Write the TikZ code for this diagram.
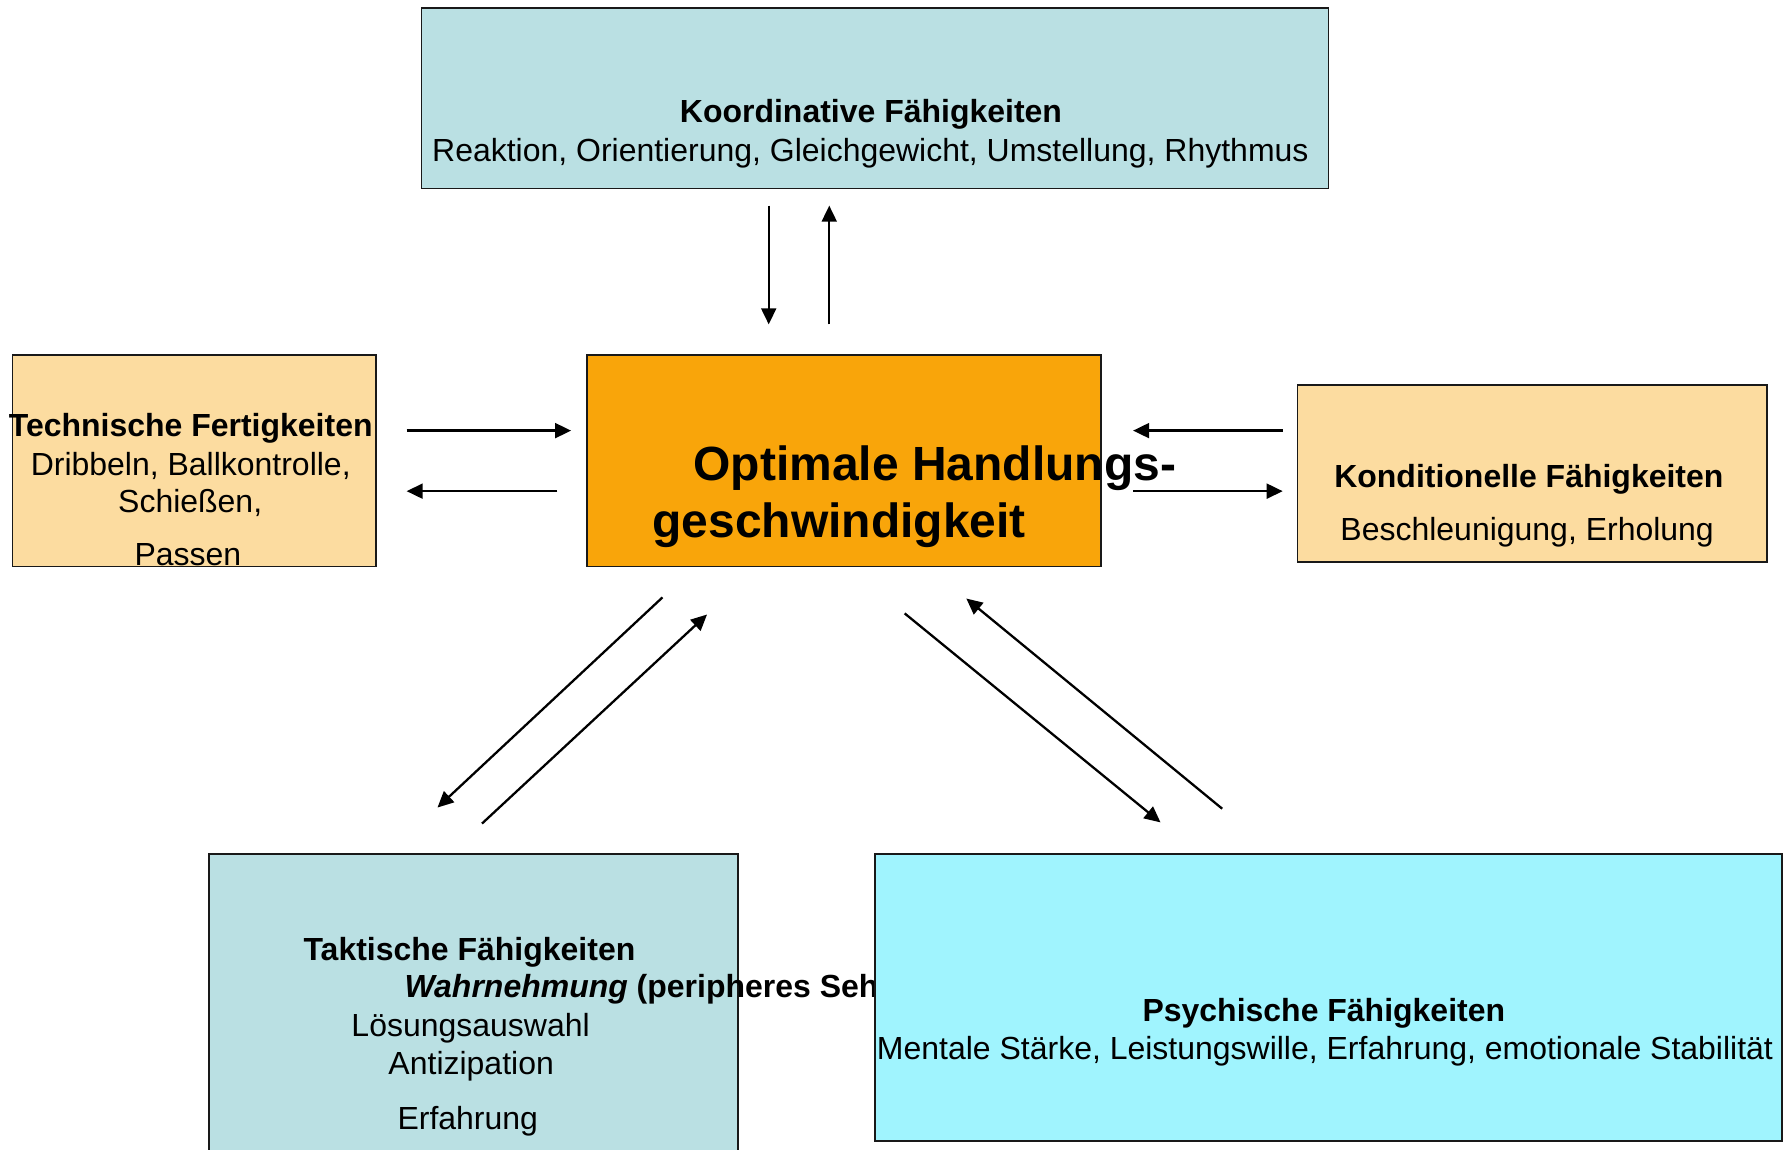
\documentclass[tikz,border=0pt]{standalone}
\usepackage{fontspec}
\setmainfont{Liberation Sans}
\usetikzlibrary{arrows.meta}
\definecolor{teal1}{RGB}{186,224,227}
\definecolor{peach}{RGB}{252,220,160}
\definecolor{orng}{RGB}{249,165,10}
\definecolor{cyan1}{RGB}{160,244,254}
\tikzset{
  box/.style={draw=black!90, line width=1.6pt, inner sep=0pt, rectangle},
  txt/.style={inner sep=0pt, anchor=base, font=\fontsize{28}{34}\selectfont},
  ttl/.style={txt, font=\fontsize{28}{34}\selectfont\bfseries},
  arr/.style={line width=2pt, -{Triangle[length=14pt,width=13pt]}}
}
\begin{document}
\begin{tikzpicture}[x=1pt,y=-1pt]
\useasboundingbox (0,0) rectangle (1568,1006);
% boxes
\node[box, fill=teal1, minimum width=794pt, minimum height=158pt] (koord) at (766,86) {};
\node[box, fill=peach, minimum width=318pt, minimum height=185pt] (tech) at (170,403.5) {};
\node[box, fill=orng, minimum width=450pt, minimum height=185pt] (opt) at (739,403.5) {};
\node[box, fill=peach, minimum width=411pt, minimum height=155pt] (kond) at (1341.5,414.5) {};
\node[box, fill=teal1, minimum width=463pt, minimum height=282pt] (takt) at (414.5,889) {};
% texts
\node[ttl] (koordT) at (762.5,107) {Koordinative Fähigkeiten};
\node[txt] (koordL) at (762,141) {Reaktion, Orientierung, Gleichgewicht, Umstellung, Rhythmus};
\node[ttl] (techT) at (167,382) {Technische Fertigkeiten};
\node[txt] (techL1) at (167,416) {Dribbeln, Ballkontrolle,};
\node[txt] (techL2) at (166.5,449) {Schießen,};
\node[txt] (techL3) at (164.5,495) {Passen};
\node[inner sep=0pt, anchor=base west, font=\fontsize{42}{51}\selectfont\bfseries] (optT1) at (607,421) {Optimale Handlungs-};
\node[inner sep=0pt, anchor=base west, font=\fontsize{42}{51}\selectfont\bfseries] (optT2) at (571,471) {geschwindigkeit};
\node[ttl] (kondT) at (1338.5,427) {Konditionelle Fähigkeiten};
\node[txt] (kondL) at (1337,473) {Beschleunigung, Erholung};
\node[ttl] (taktT) at (411,841) {Taktische Fähigkeiten};
\node[txt, anchor=base west, font=\fontsize{28}{34}\selectfont\bfseries] (taktL1) at (354,873) {\textit{Wahrnehmung} (peripheres Seh};
\node[txt] (taktL2) at (412,907) {Lösungsauswahl};
\node[txt] (taktL3) at (412.5,941) {Antizipation};
\node[txt] (taktL4) at (409.5,989) {Erfahrung};
% psychische box on top
\node[box, fill=cyan1, minimum width=794pt, minimum height=251pt] (psych) at (1163,873.5) {};
\node[ttl] (psychT) at (1159,894) {Psychische Fähigkeiten};
\node[txt] (psychL) at (1160,928) {Mentale Stärke, Leistungswille, Erfahrung, emotionale Stabilität};
% connector end points
\coordinate (v1a) at (673,180); \coordinate (v1b) at (673,284);
\coordinate (v2a) at (726,284); \coordinate (v2b) at (726,180);
\coordinate (l1a) at (356,377); \coordinate (l1b) at (500,377);
\coordinate (l2a) at (488,430); \coordinate (l2b) at (356,430);
\coordinate (r1a) at (1123,377); \coordinate (r1b) at (992,377);
\coordinate (r2a) at (992,430); \coordinate (r2b) at (1123,430);
\coordinate (d1a) at (580,523); \coordinate (d1b) at (383,707);
\coordinate (d2a) at (422,721); \coordinate (d2b) at (619,538);
\coordinate (e1a) at (792,537); \coordinate (e1b) at (1016,720);
\coordinate (e2a) at (1070,708); \coordinate (e2b) at (846,524);
% connectors
\draw[arr] (v1a) -- (v1b);
\draw[arr] (v2a) -- (v2b);
\draw[arr] (l1a) -- (l1b);
\draw[arr] (l2a) -- (l2b);
\draw[arr] (r1a) -- (r1b);
\draw[arr] (r2a) -- (r2b);
\draw[arr] (d1a) -- (d1b);
\draw[arr] (d2a) -- (d2b);
\draw[arr] (e1a) -- (e1b);
\draw[arr] (e2a) -- (e2b);
\end{tikzpicture}
\end{document}
